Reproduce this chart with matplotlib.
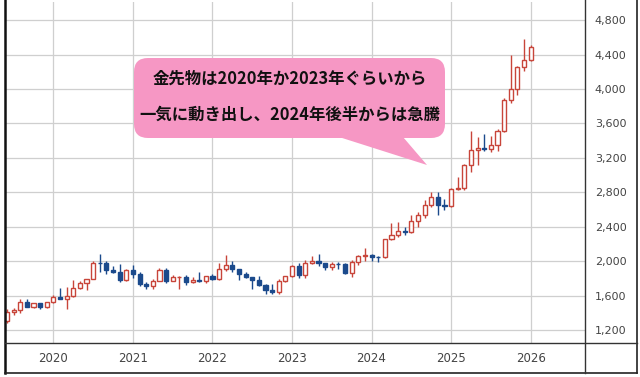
import numpy as np
import matplotlib
matplotlib.use("Agg")
import matplotlib.pyplot as plt
from matplotlib.patches import FancyBboxPatch, Polygon

plt.rcParams["font.family"] = ["DejaVu Sans"]

# monthly gold futures, Jun 2019 .. Jan 2026
opens = [1311, 1413, 1437, 1529, 1472, 1513, 1472,
         1523, 1589, 1566, 1596, 1694, 1751, 1800, 1986, 1978, 1895, 1879, 1780,
         1895, 1850, 1734, 1716, 1769, 1905, 1771, 1814, 1814, 1757, 1784, 1774,
         1828, 1796, 1908, 1954, 1911, 1848, 1817, 1781, 1726, 1672, 1640, 1768,
         1826, 1942, 1836, 1986, 2000, 1982, 1929, 1970, 1965, 1866, 1995, 2057,
         2072, 2056, 2050, 2254, 2302, 2347, 2339, 2473, 2538, 2659, 2749, 2657,
         2641, 2835, 2848, 3122, 3288, 3313, 3307, 3348, 3516, 3873, 3996, 4254,
         4341]
highs = [1442, 1453, 1566, 1566, 1519, 1516, 1525,
         1611, 1691, 1704, 1788, 1775, 1800, 2005, 2089, 2000, 1940, 1966, 1910,
         1963, 1875, 1757, 1798, 1919, 1917, 1837, 1834, 1837, 1815, 1878, 1832,
         1853, 1976, 2078, 2003, 1911, 1880, 1823, 1824, 1735, 1735, 1790, 1833,
         1960, 1975, 2012, 2063, 2085, 1985, 1989, 1988, 1975, 2010, 2075, 2152,
         2089, 2066, 2256, 2448, 2455, 2398, 2537, 2570, 2709, 2801, 2801, 2726,
         2853, 2974, 3135, 3509, 3439, 3476, 3451, 3534, 3890, 4398, 4265, 4584,
         4510]
lows = [1283, 1382, 1400, 1465, 1458, 1445, 1460,
        1517, 1563, 1451, 1590, 1683, 1671, 1790, 1874, 1850, 1860, 1764, 1775,
        1803, 1717, 1677, 1680, 1767, 1750, 1766, 1677, 1721, 1746, 1761, 1753,
        1781, 1782, 1890, 1872, 1786, 1805, 1681, 1709, 1626, 1617, 1618, 1765,
        1822, 1805, 1811, 1973, 1941, 1900, 1902, 1913, 1848, 1823, 1953, 2009,
        2001, 1996, 2039, 2247, 2277, 2304, 2325, 2393, 2500, 2635, 2541, 2596,
        2633, 2832, 2833, 3031, 3123, 3281, 3268, 3283, 3500, 3835, 3930, 4211,
        4330]
closes = [1413, 1437, 1529, 1472, 1513, 1472, 1523,
          1589, 1566, 1596, 1694, 1751, 1800, 1986, 1978, 1895, 1879, 1780, 1895,
          1850, 1734, 1716, 1769, 1905, 1771, 1814, 1814, 1757, 1784, 1774, 1828,
          1796, 1908, 1954, 1911, 1848, 1817, 1781, 1726, 1672, 1640, 1768, 1826,
          1942, 1836, 1986, 2000, 1982, 1929, 1970, 1965, 1866, 1995, 2057, 2072,
          2054, 2050, 2254, 2302, 2347, 2339, 2473, 2538, 2659, 2749, 2657, 2641,
          2835, 2848, 3122, 3288, 3313, 3307, 3348, 3516, 3873, 3996, 4254, 4341,
          4490]

year_labels = ["2020", "2021", "2022", "2023", "2024", "2025", "2026"]
year_pos = [7, 19, 31, 43, 55, 67, 79]     # month index of each January
y_ticks = [1200, 1600, 2000, 2400, 2800, 3200, 3600, 4000, 4400, 4800]
note = ["金先物は2020年か2023年ぐらいから", "一気に動き出し、2024年後半からは急騰"]

UP, DOWN = "#c8453a", "#1b4a8c"

fig = plt.figure(figsize=(6.4, 3.77), dpi=100)
W, H = 640, 377
ax = fig.add_axes([5 / W, (H - 343) / H, 580 / W, 341 / H])

x = np.arange(len(opens))
o, h, l, c = map(np.array, (opens, highs, lows, closes))
up = c >= o
cols = np.where(up, UP, DOWN)
ax.vlines(x, l, h, colors=cols, lw=1.0, zorder=2)
body = np.maximum(np.abs(c - o), 6)
ax.bar(x, body, bottom=np.minimum(o, c), width=0.62,
       color=np.where(up, "white", DOWN), edgecolor=cols, lw=1.0, zorder=3)

ax.set_xlim(-0.3, 87.2)
ax.set_ylim(1052, 5010)
ax.set_xticks(year_pos)
ax.set_xticklabels(year_labels)
ax.set_yticks(y_ticks)
ax.set_yticklabels([f"{v:,}" for v in y_ticks])
ax.yaxis.tick_right()
ax.tick_params(axis="y", length=0, pad=7, labelsize=8, labelcolor="#444")
ax.tick_params(axis="x", length=0, pad=6.5, labelsize=8.5, labelcolor="#444")
ax.grid(True, color="#cfcfcf", lw=0.9)
ax.set_axisbelow(True)
for s in ax.spines.values():
    s.set_visible(False)

# overlay in pixel coords for frame + speech bubble
ov = fig.add_axes([0, 0, 1, 1], zorder=5)
ov.set_xlim(0, W); ov.set_ylim(H, 0); ov.axis("off")
ov.patch.set_alpha(0)
ov.plot([4.5, 4.5], [0, 373], color="#111", lw=1.8)
ov.plot([4.5, 637], [373, 373], color="#222", lw=1.2)
ov.plot([637, 637], [0, 373], color="#222", lw=1.2)
ov.plot([585, 585], [0, 373], color="#333", lw=1.0)
ov.plot([4.5, 637], [343, 343], color="#333", lw=1.0)

pink = "#f697c4"
ov.add_patch(FancyBboxPatch((146, 70), 287, 56, boxstyle="round,pad=12,rounding_size=14",
                            fc=pink, ec="none"))
ov.add_patch(Polygon([(317, 130), (397, 130), (427, 165)], closed=True, fc=pink, ec="none"))
for i, t in enumerate(note):
    ov.text(290, 79 + i * 36, t, ha="center", va="center", fontsize=11.8, weight="bold",
            color="#111", family=["Noto Sans CJK JP", "DejaVu Sans"])

fig.savefig("out.png", dpi=100)
